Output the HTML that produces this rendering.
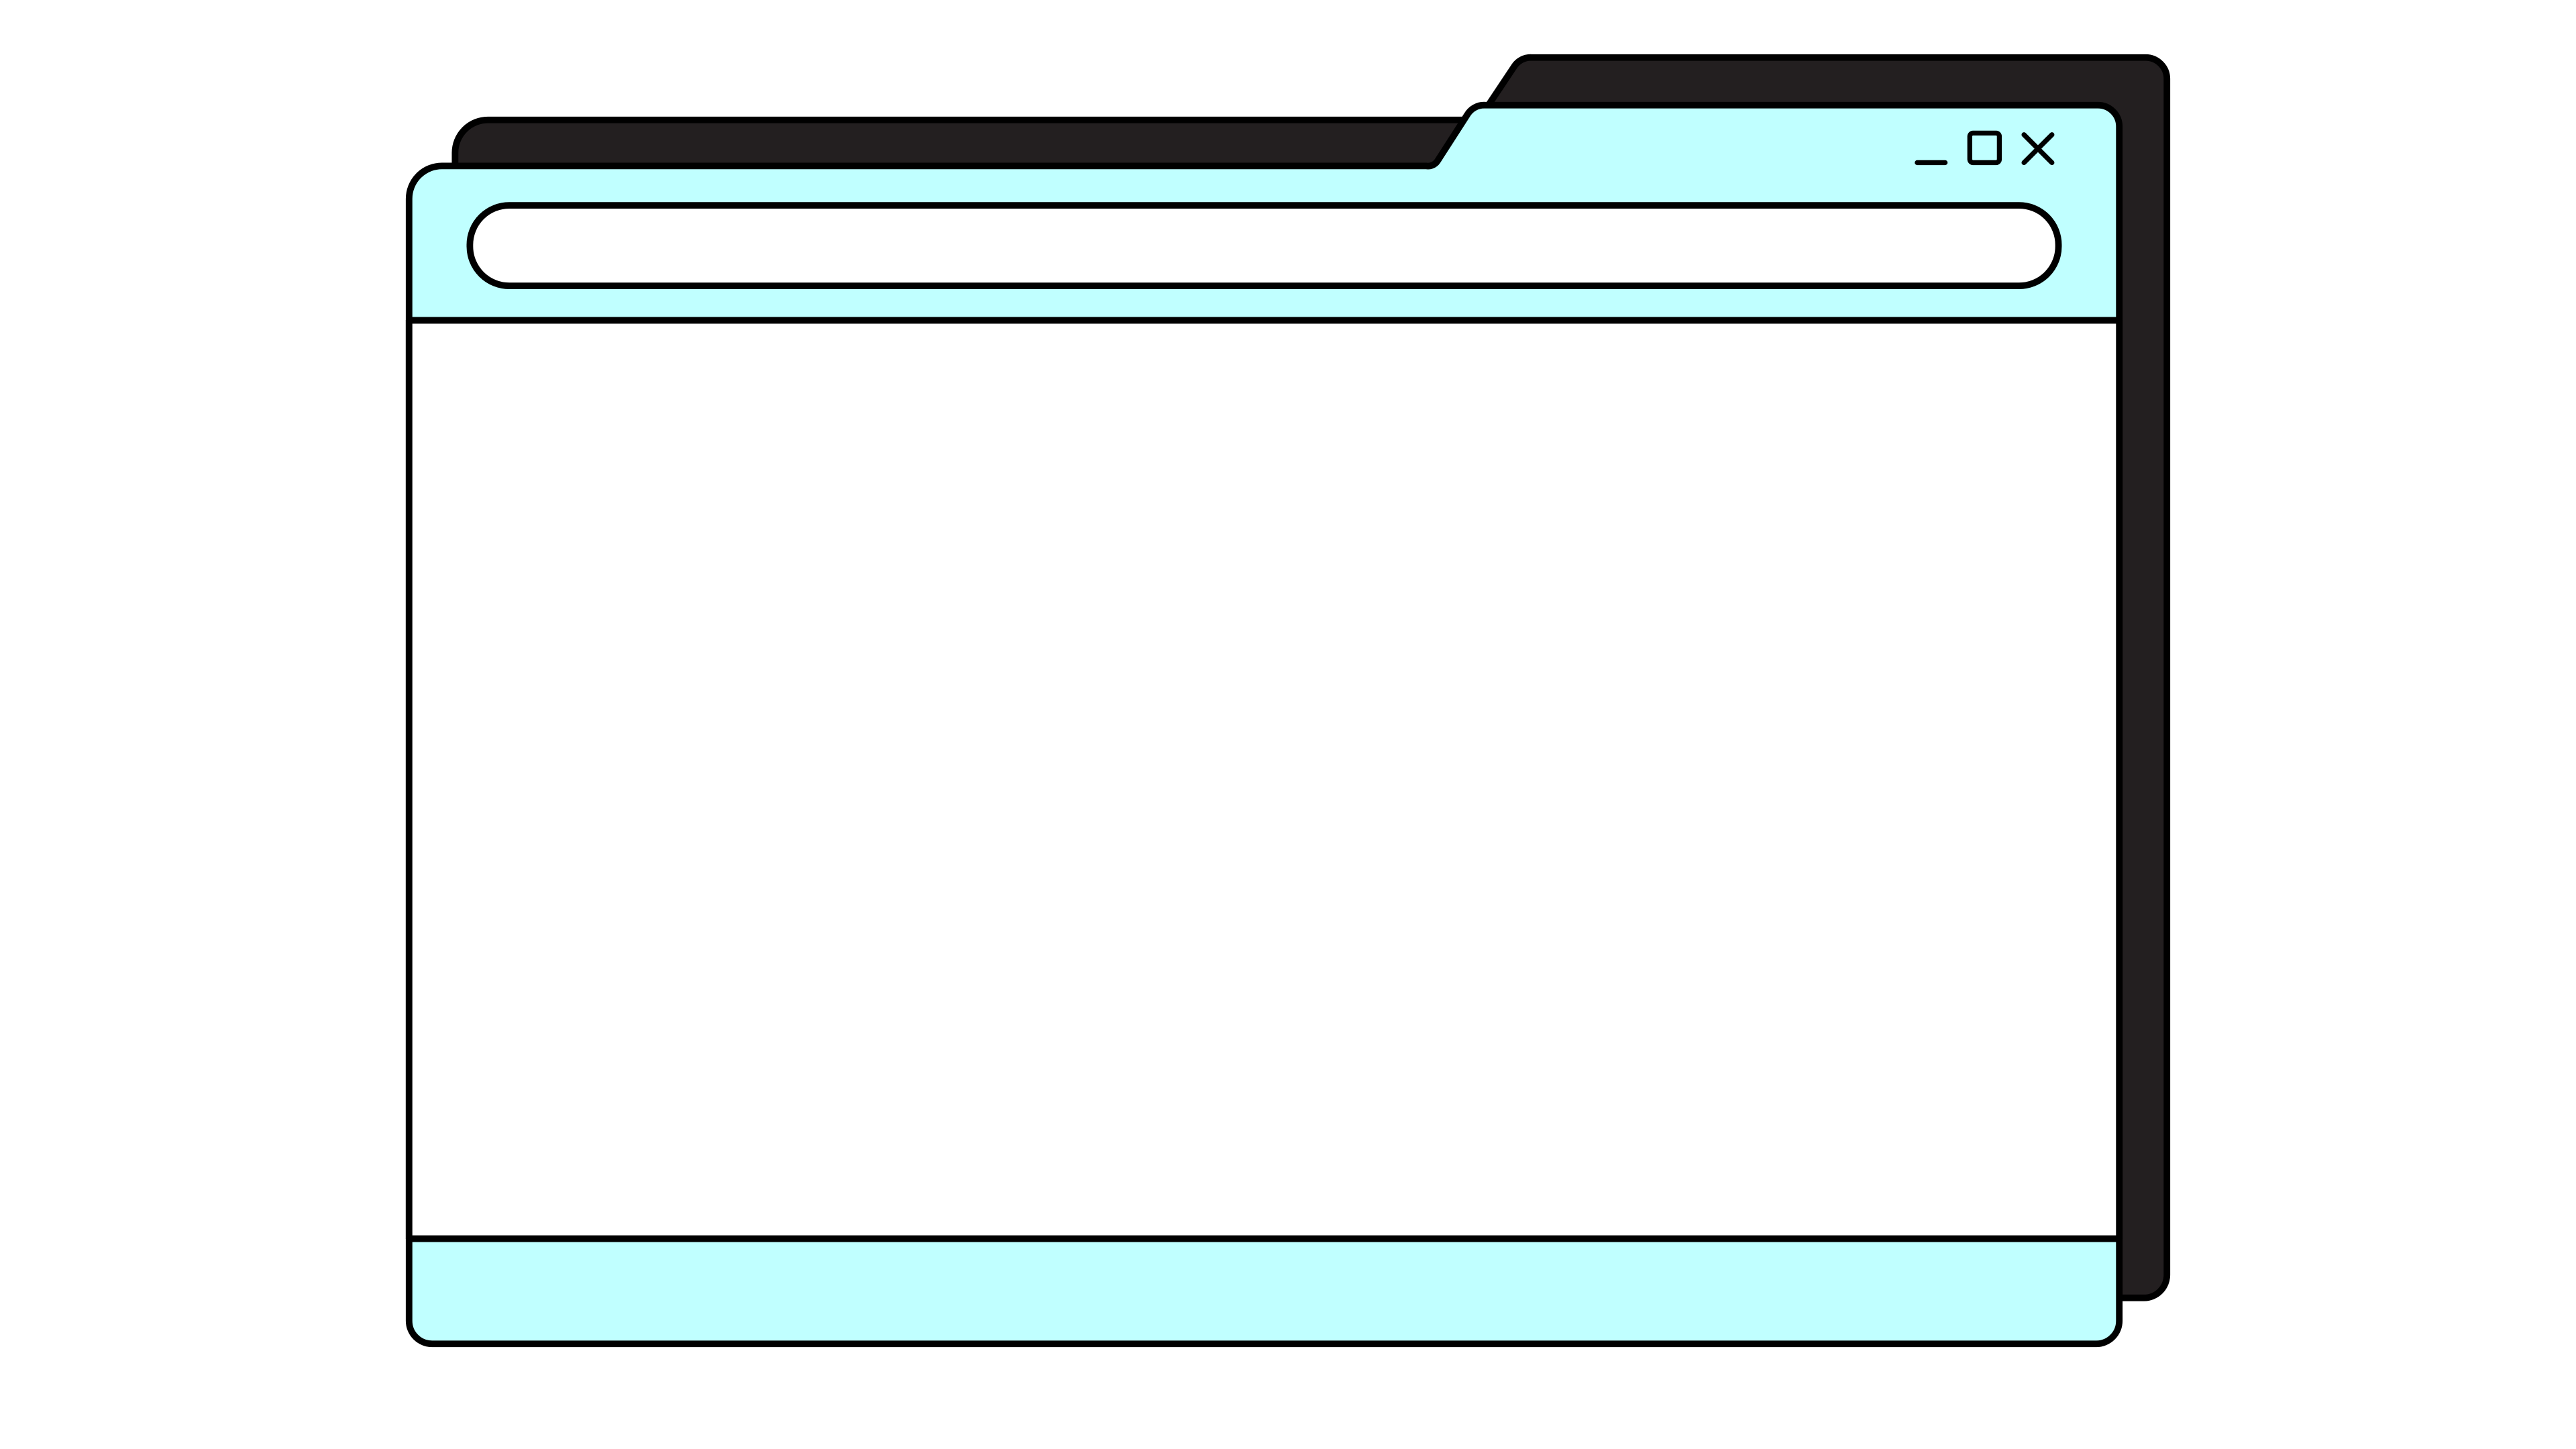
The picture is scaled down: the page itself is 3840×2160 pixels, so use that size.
<!DOCTYPE html>
<html><head><meta charset="utf-8"><style>html,body{margin:0;padding:0;background:#fff}svg{display:block}</style></head>
<body>
<svg width="3840" height="2160" viewBox="0 0 1568 882" xmlns="http://www.w3.org/2000/svg">
<g stroke="#000" stroke-width="4" stroke-linejoin="round" stroke-linecap="round">
<!-- back folder -->
<path d="M277 110 V93 A20 20 0 0 1 297 73 H880 L900 73 L922 40 A12 12 0 0 1 932 35 H1306 A13 13 0 0 1 1319 48 V776 A14 14 0 0 1 1305 790 H1290 V110 Z" fill="#231f20"/>
<!-- front folder -->
<path d="M249 121 A20 20 0 0 1 269 101 H868 A7 7 0 0 0 875 98 L893 70 A12 12 0 0 1 904 64 H1277 A13 13 0 0 1 1290 77 V804 A14 14 0 0 1 1276 818 H263 A14 14 0 0 1 249 804 Z" fill="#c0ffff"/>
<rect x="249" y="195" width="1041" height="559" fill="#fff"/>
<line x1="249" y1="195" x2="1290" y2="195"/>
<line x1="249" y1="754" x2="1290" y2="754"/>
<rect x="286" y="125" width="967" height="49" rx="24" ry="24" fill="#fff"/>
<!-- window controls -->
<line x1="1167" y1="99" x2="1184" y2="99" stroke-width="3"/>
<rect x="1199" y="81" width="18" height="18" rx="2" fill="none" stroke-width="3"/>
<line x1="1232" y1="82" x2="1249" y2="99" stroke-width="3"/>
<line x1="1249" y1="82" x2="1232" y2="99" stroke-width="3"/>
</g>
</svg>
</body></html>
